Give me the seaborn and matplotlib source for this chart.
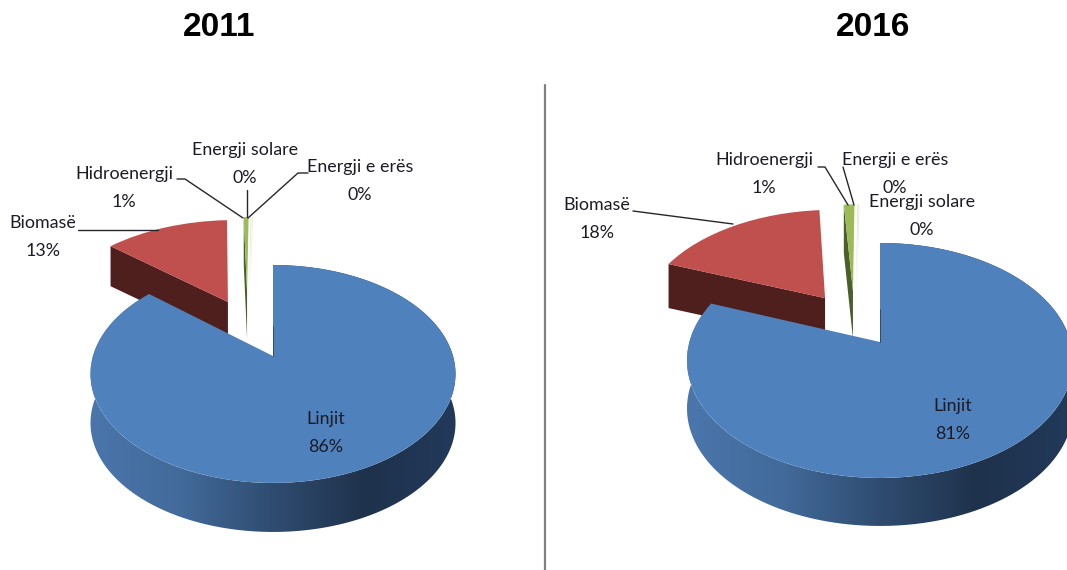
import numpy as np
import matplotlib
matplotlib.use('Agg')
import matplotlib.pyplot as plt
import matplotlib.transforms as mtransforms
from matplotlib.patches import Polygon
import seaborn as sns

# Values
names_2011 = ['Linjit', 'Biomasë', 'Hidroenergji', 'Energji solare', 'Energji e erës']
values_2011 = [86, 13, 0.55, 0.1, 0.1]
names_2016 = ['Linjit', 'Biomasë', 'Hidroenergji', 'Energji e erës', 'Energji solare']
values_2016 = [81, 18, 1.1, 0.1, 0.1]

years = ['2011', '2016']

# Slice styling
slice_colors = ['#4f81bd', '#c0504d', '#9bbb59', '#dfe8cc', '#e6ecd8']
wall_colors = [None, '#4e1f1c', '#4a5f2a', None, None]
rim_colors = ['#4b76ac', '#426a9a', '#2f4c70', '#1f324c', '#22395a']
text_color = '#1c1c28'

explode_2011 = [0, 0.62, 0.675, 0.675, 0.675]
explode_2016 = [0, 0.51, 0.48, 0.48, 0.48]
sideways_2011 = [0, 0, -0.14, -0.14, -0.14]
sideways_2016 = [0, 0, -0.13, -0.13, -0.13]
radius_2011 = [1, 1.07, 1, 1, 1]
radius_2016 = [1, 1, 1, 1, 1]

# Pie layout in pixels: apex x, apex y, half width, half height, tilt, rim depth, wall depth
layout_2011 = dict(cx=273, cy=356, b=180, a=106, k=0.165, depth=49, walls=[0, 40, 47, 0, 0])
layout_2016 = dict(cx=880, cy=342, b=190.6, a=114.6, k=0.157, depth=48, walls=[0, 44, 48, 0, 0])

labels_2011 = [(326, 433), (43, 237), (124, 188), (245, 164), (360, 181)]
labels_2016 = [(953, 420), (597, 219), (764, 174), (895, 174), (922, 216)]

leaders = [
    [(78, 230), (158, 230)],
    [(177, 179), (185, 179), (243, 218)],
    [(247, 190), (247, 217)],
    [(308, 173), (298, 173), (248, 218)],
    [(633, 211), (733, 224)],
    [(818, 167), (825, 167), (848, 205)],
    [(843, 167), (854, 205)],
]


class Tilt(mtransforms.Transform):
    # perspective view of the flat unit pie, output in image pixels
    input_dims = 2
    output_dims = 2
    is_separable = False
    has_inverse = False

    def __init__(self, cx, cy, b, a, k):
        super().__init__()
        self.cx, self.cy, self.b, self.a, self.k = cx, cy, b, a, k

    def transform_non_affine(self, xy):
        xy = np.asarray(xy, dtype=float)
        w = 1 + self.k * xy[:, 1]
        return np.column_stack([self.cx + self.b * xy[:, 0] / w,
                                self.cy - self.a * xy[:, 1] / w])


def rim_point(wedge, theta):
    t = np.radians(theta)
    x, y = wedge.center
    return np.column_stack([x + wedge.r * np.cos(t), y + wedge.r * np.sin(t)])


def draw_pie(ax, values, names, explode, sideways, radius, layout, label_pos):
    tilt = Tilt(layout['cx'], layout['cy'], layout['b'], layout['a'], layout['k'])
    wedges, _ = ax.pie(values, explode=explode, colors=slice_colors, startangle=90,
                       counterclock=False, wedgeprops={'linewidth': 0})
    for wedge, shift, r in zip(wedges, sideways, radius):
        wedge.set_center((wedge.center[0] + shift, wedge.center[1]))
        wedge.set_radius(r)
        wedge.set_transform(tilt + ax.transData)

    # Blue rim: the arc pushed down, the top face covers what should be hidden
    blue = wedges[0]
    arc = tilt.transform_non_affine(rim_point(blue, np.linspace(blue.theta1, blue.theta2, 300)))
    lower = arc + [0, layout['depth']]
    band = Polygon(np.vstack([arc, lower[::-1]]), closed=True, transform=ax.transData,
                   facecolor='none', edgecolor='none')
    ax.add_patch(band)
    image = ax.imshow(np.linspace(0, 1, 256)[None, :], aspect='auto', zorder=0.2,
                      cmap=sns.blend_palette(rim_colors, as_cmap=True),
                      extent=(arc[:, 0].min(), arc[:, 0].max(), lower[:, 1].max(), arc[:, 1].min()))
    image.set_clip_path(band)

    # Dark inner walls of the pulled out slices
    for wedge, color, wall in zip(wedges, wall_colors, layout['walls']):
        if color is None:
            continue
        outer = tilt.transform_non_affine(rim_point(wedge, wedge.theta2))[0]
        apex = tilt.transform_non_affine(np.array([wedge.center]))[0]
        drop = np.array([0, wall])
        ax.add_patch(Polygon([outer, apex, apex + drop, outer + drop], closed=True,
                             facecolor=color, edgecolor='none', zorder=0.4))

    # Thin dark wall beside the blue cut
    cut = tilt.transform_non_affine(np.array([[0, 0], [0, 0.3]]))
    ax.plot(cut[:, 0] - 0.3, cut[:, 1], color='#2a4260', lw=0.6, zorder=1.5)

    for name, value, (x, y) in zip(names, values, label_pos):
        ax.text(x, y, f'{name}\n{value:.0f}%', ha='center', va='center', color=text_color,
                fontsize=12.9, linespacing=1.93, zorder=3)


sns.set_theme(style='white')
plt.rcParams['font.family'] = ['Lato', 'DejaVu Sans']

fig = plt.figure(figsize=(10.67, 5.7), dpi=100)
ax = fig.add_axes([0, 0, 1, 1])

draw_pie(ax, values_2011, names_2011, explode_2011, sideways_2011, radius_2011, layout_2011, labels_2011)
draw_pie(ax, values_2016, names_2016, explode_2016, sideways_2016, radius_2016, layout_2016, labels_2016)

for line in leaders:
    xs, ys = zip(*line)
    ax.plot(xs, ys, color='#26262c', lw=1.0, zorder=2.5)

ax.plot([545, 545], [85, 570], color='#808080', lw=1.6, zorder=2)

for year, x in zip(years, [219, 873]):
    ax.text(x, 27, year, ha='center', va='center', fontsize=24, fontweight='bold',
            family='Liberation Sans', color='black')

ax.set_aspect('auto')
ax.set_xlim(0, 1067)
ax.set_ylim(570, 0)
ax.set_axis_off()
fig.savefig('out.png', dpi=100)
plt.close(fig)
